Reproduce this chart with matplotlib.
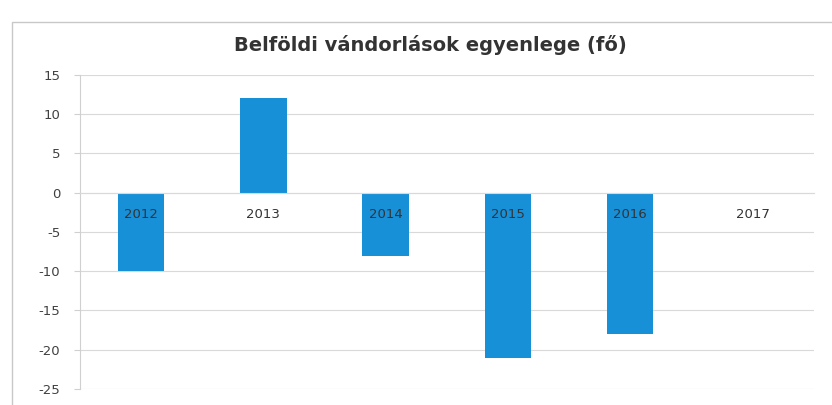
import matplotlib
matplotlib.use("Agg")
import matplotlib.pyplot as plt
from matplotlib.patches import Rectangle
from matplotlib.transforms import offset_copy

years = ["2012", "2013", "2014", "2015", "2016", "2017"]
values = [-10, 12, -8, -21, -18, 0]
yticks = [15, 10, 5, 0, -5, -10, -15, -20, -25]
title = "Belföldi vándorlások egyenlege (fő)"

plt.rcParams['font.family'] = ['DejaVu Sans']

fig = plt.figure(figsize=(8.32, 4.05), dpi=100)
fig.patch.set_facecolor("white")
fig.patches.append(Rectangle((0.014, -0.02), 1.0, 0.965, transform=fig.transFigure,
                             fill=False, edgecolor="#c8c8c8", linewidth=1.0))

ax = fig.add_axes([0.096, 0.0395, 0.882, 0.7755])
x = list(range(len(years)))
ax.bar(x, values, width=0.38, color="#1790d8", zorder=2)

ax.set_xlim(-0.5, len(years) - 0.5)
ax.set_ylim(-25, 15)
ax.set_yticks(yticks)
ax.set_yticklabels([str(v) for v in yticks], fontsize=9.5, color="#404040")
ax.grid(axis="y", color="#d9d9d9", linewidth=0.8, zorder=0)
ax.set_axisbelow(True)

ax.set_xticks(x)
ax.set_xticklabels([])
ax.spines['bottom'].set_position(('data', 0))
ax.spines['bottom'].set_color("#d9d9d9")
ax.spines['top'].set_visible(False)
ax.spines['right'].set_visible(False)
ax.spines['left'].set_color("#d0d0d0")
ax.tick_params(axis='x', length=0)
ax.tick_params(axis='y', length=4, color="#d0d0d0", pad=10)

trans = offset_copy(ax.transData, fig=fig, x=0, y=-22, units='dots')
for xi, yr in zip(x, years):
    ax.text(xi, 0, yr, transform=trans, ha="center", va="center",
            fontsize=9.5, color="#333333", zorder=5)

fig.text(0.517, 0.889, title, ha="center", va="center", fontsize=14,
         fontweight="bold", color="#333333")

fig.savefig("out.png", dpi=100, facecolor="white")
